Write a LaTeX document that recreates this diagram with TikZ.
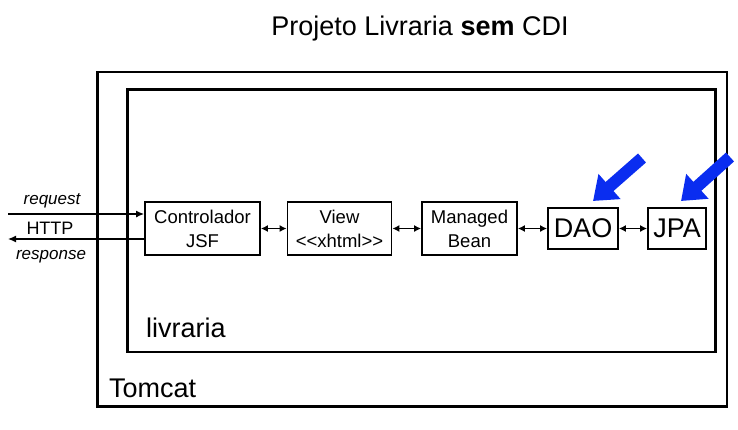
\documentclass[tikz,border=0pt]{standalone}
\usepackage{fontspec}
\setmainfont{Liberation Sans}
\usetikzlibrary{arrows.meta}
\definecolor{arrowblue}{RGB}{10,45,240}
\tikzset{
  frame/.style={draw=black, line width=2.2pt},
  comp/.style={draw=black, line width=1.8pt, inner sep=0pt, align=center,
    font=\fontsize{18.5}{24}\selectfont, minimum height=53pt},
  bigcomp/.style={draw=black, line width=1.8pt, inner sep=0pt, align=center,
    font=\fontsize{27}{30}\selectfont, minimum height=41pt},
  link/.style={line width=1.3pt, {Latex[length=7pt,width=7pt]}-{Latex[length=7pt,width=7pt]}},
  httparrow/.style={line width=1.3pt, -{Latex[length=8pt,width=7pt]}},
  lbl/.style={inner sep=0pt, font=\fontsize{17}{20}\selectfont\itshape},
  bigtext/.style={inner sep=0pt, anchor=base west, font=\fontsize{27}{30}\selectfont},
  hint/.style={arrowblue, line width=12pt, -{Triangle[length=22pt,width=32pt]}}
}
\begin{document}
\begin{tikzpicture}[x=1pt,y=-1pt]
\useasboundingbox (0,0) rectangle (738,429);
% title
\node[inner sep=0pt, anchor=base, font=\fontsize{27}{30}\selectfont] (title) at (420,35) {Projeto Livraria \textbf{sem} CDI};
% containers
\draw[frame] (97.5,72) rectangle (727,406.5);
\draw[frame] (127.5,89.5) rectangle (715.5,352);
\node[bigtext] (tomcat) at (109,397) {Tomcat};
\node[bigtext] (livraria) at (146,337) {livraria};
% components
\node[comp, minimum width=115pt] (ctrl) at (202.5,228.5) {Controlador\\JSF};
\node[comp, minimum width=104pt] (view) at (339.5,228.5) {View\\<\kern0pt<xhtml>\kern0pt>};
\node[comp, minimum width=95pt] (mb) at (469.5,228.5) {Managed\\Bean};
\node[bigcomp, minimum width=70pt] (dao) at (583,228.5) {DAO};
\node[bigcomp, minimum width=58pt] (jpa) at (677,228.5) {JPA};
% links
\draw[link] (ctrl.east) -- (view.west);
\draw[link] (view.east) -- (mb.west);
\draw[link] (mb.east) -- (dao.west);
\draw[link] (dao.east) -- (jpa.west);
% HTTP
\coordinate (reqstart) at (8,214);
\coordinate (respend) at (8,239);
\draw[httparrow] (reqstart) -- (reqstart -| ctrl.west);
\draw[httparrow] (respend -| ctrl.west) -- (respend);
\node[lbl] (req) at (52,201) {request};
\node[inner sep=0pt, font=\fontsize{18}{20}\selectfont] (http) at (50,228) {HTTP};
\node[lbl] (resp) at (51,257) {response};
% blue hint arrows
\coordinate (daotail) at (642,158);
\coordinate (daotip) at (593,201);
\coordinate (jpatail) at (730,157);
\coordinate (jpatip) at (681,201);
\draw[hint] (daotail) -- (daotip);
\draw[hint] (jpatail) -- (jpatip);
\end{tikzpicture}
\end{document}
